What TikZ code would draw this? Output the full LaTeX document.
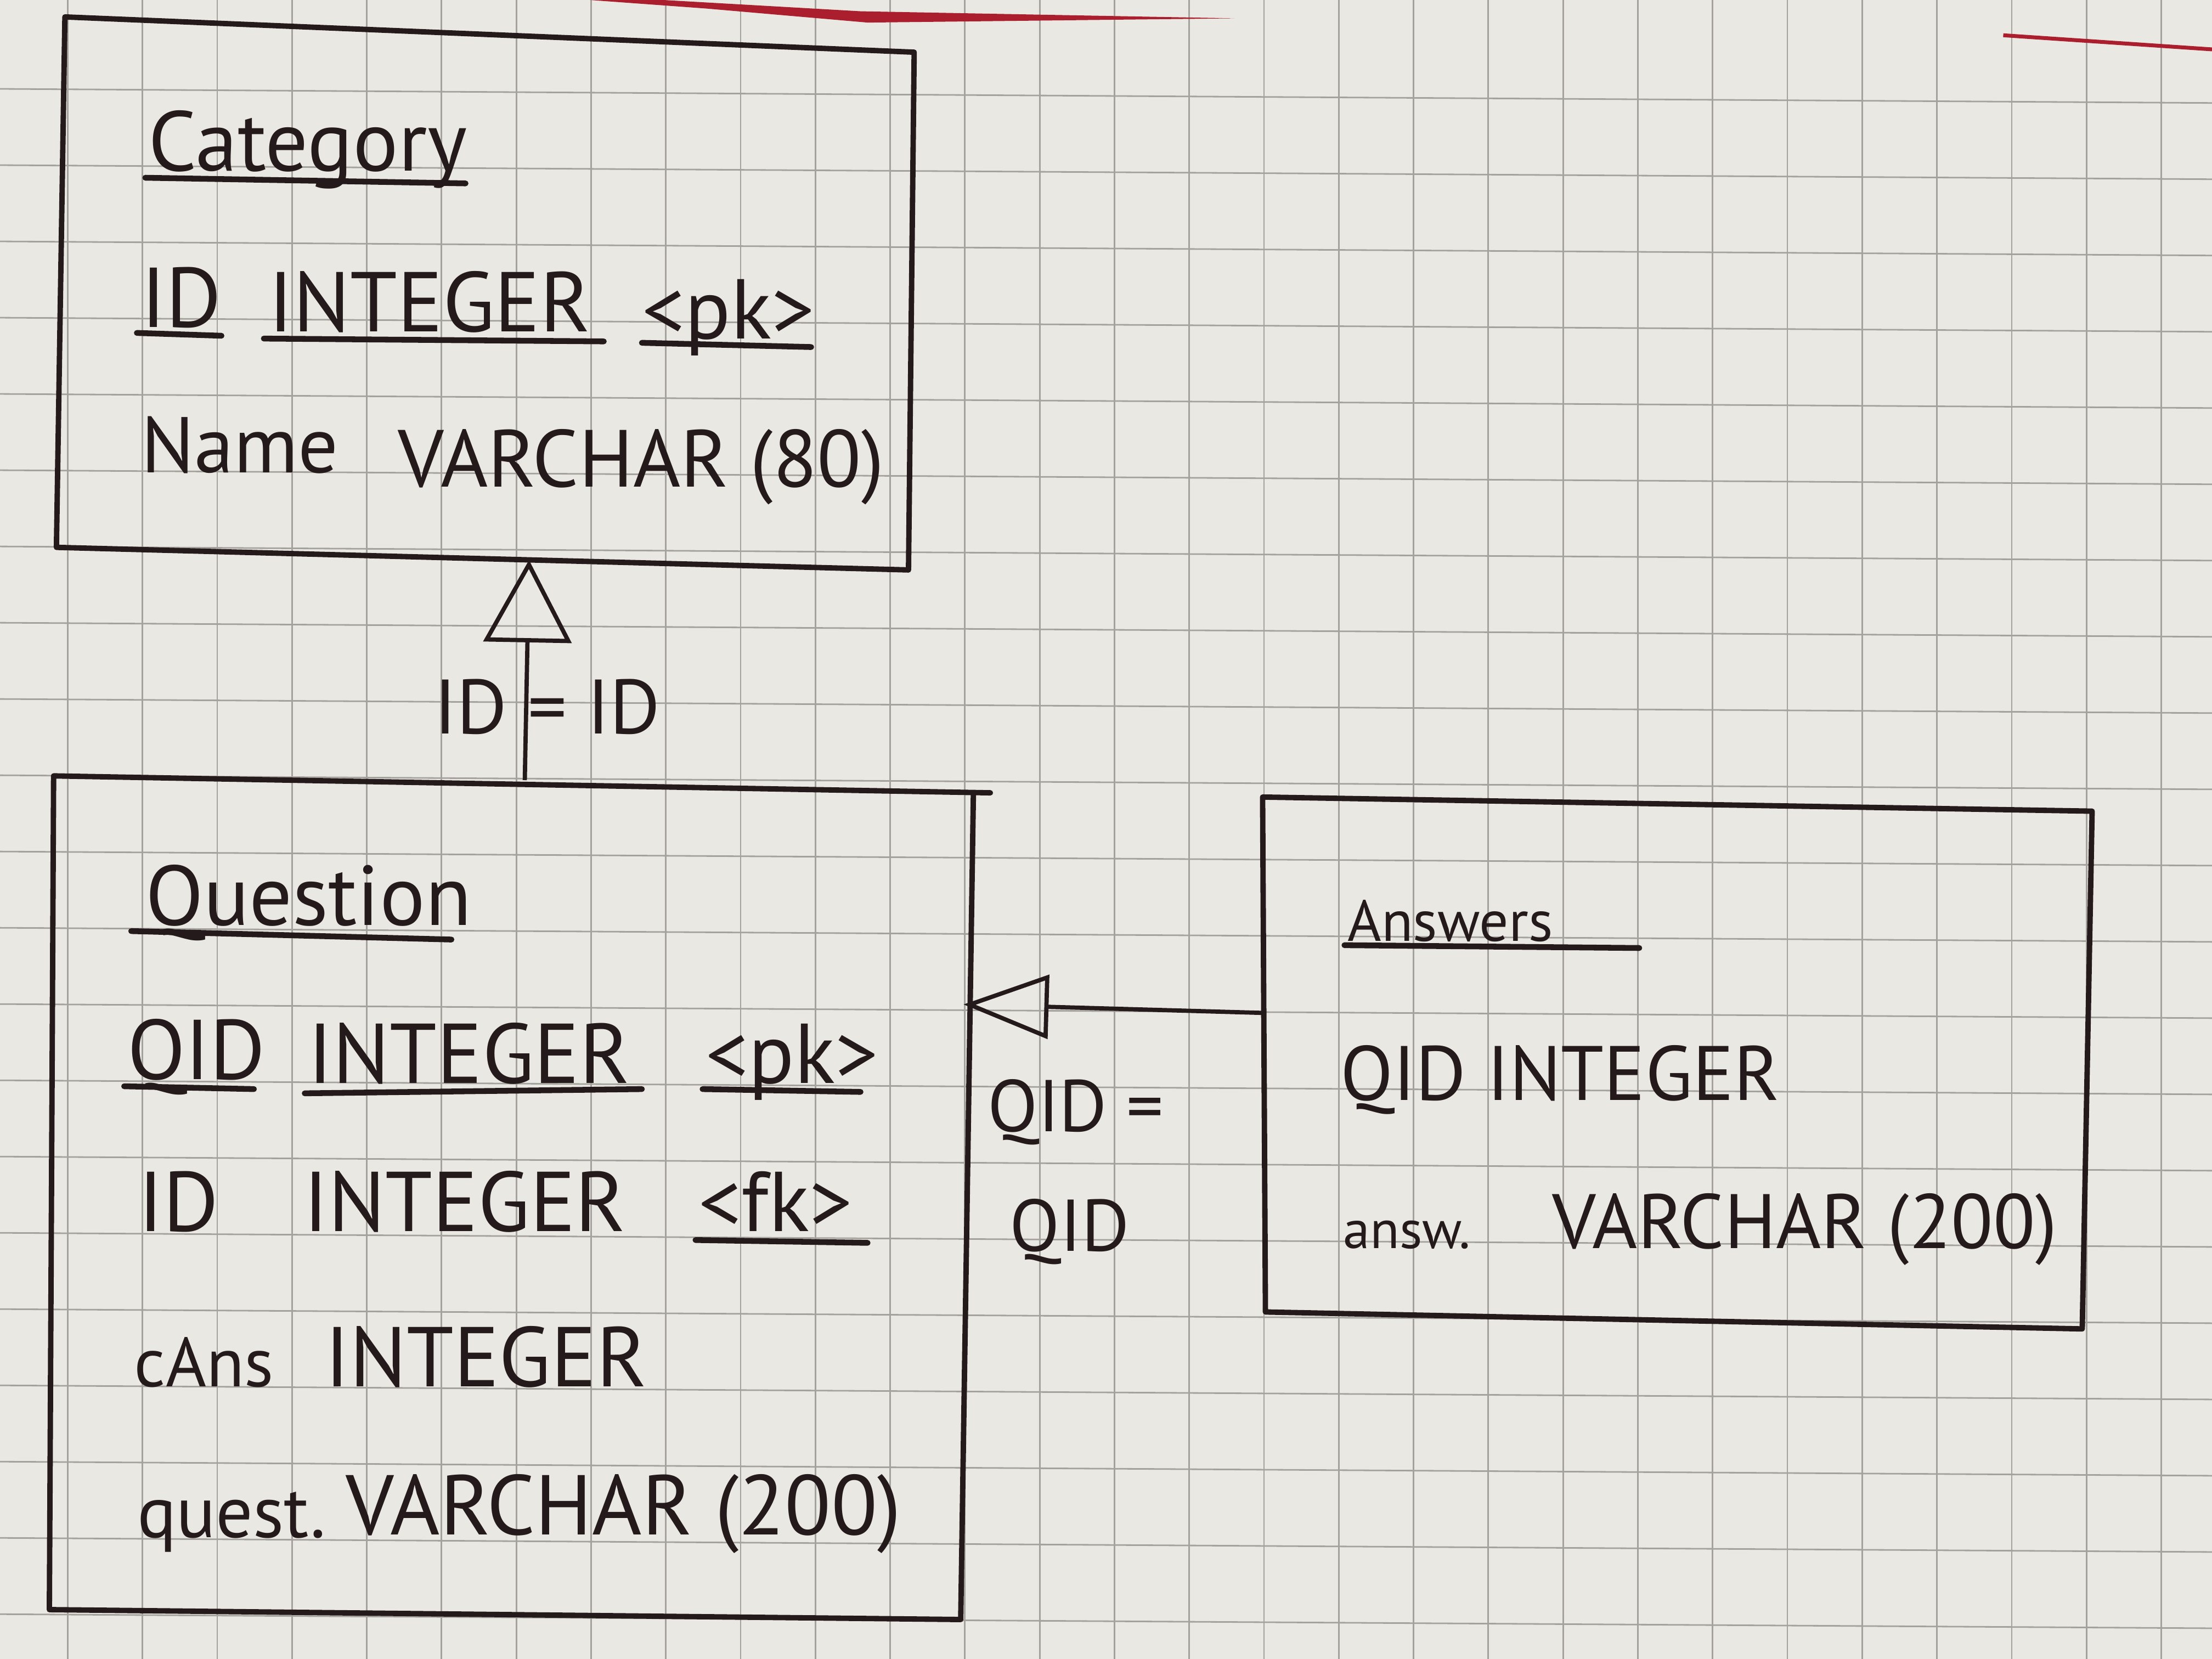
\documentclass[tikz,border=0pt]{standalone}
\usepackage{fontspec}
\setmainfont{PT Sans}
\usetikzlibrary{arrows.meta}
\definecolor{paper}{RGB}{234,232,226}
\definecolor{gridc}{RGB}{165,162,157}
\definecolor{ink}{RGB}{36,26,28}
\definecolor{redink}{RGB}{170,30,45}
\begin{document}
\begin{tikzpicture}[x=0.025714cm,y=-0.025714cm,
  box/.style={draw=ink,line width=2.8pt,line join=round,line cap=round},
  txt/.style={anchor=base west,inner sep=0pt,text=ink,font=\fontsize{44}{50}\selectfont},
  mid/.style={txt,font=\fontsize{40}{46}\selectfont},
  small/.style={txt,font=\fontsize{30}{36}\selectfont},
  tiny/.style={txt,font=\fontsize{28}{32}\selectfont},
  uline/.style={draw=ink,line width=3pt,line cap=round},
  conn/.style={draw=ink,line width=2.2pt},
  vtri/.style={-{Triangle[open,length=1.5cm,width=1.6cm,line width=2.2pt]}},
  htri/.style={-{Triangle[open,length=1.55cm,width=1.16cm,line width=2.2pt]}},
  gridline/.style={draw=gridc,line width=0.8pt}
]
\useasboundingbox (0,0) rectangle (1568,1176);
\fill[paper] (0,0) rectangle (1568,1176);
% grid paper
\foreach \i in {0,...,29} {\draw[gridline] (48+53*\i,0) -- (48+53*\i,1176);}
\foreach \j in {0,...,21} {\draw[gridline] (0,63+54.06*\j) -- (1568,73+54.06*\j);}
% red margin marks
\fill[redink] (418,0) -- (470,0) -- (610,8) -- (875,13) -- (615,16) -- (500,6) -- cycle;
\draw[redink,line width=2pt] (1420,25) -- (1568,35);

% ---------- Category ----------
\coordinate (catTL) at (46,12);
\coordinate (catTR) at (648,37);
\coordinate (catBR) at (644,404);
\coordinate (catBL) at (40,388);
\draw[box] (catTL) -- (catTR) -- (catBR) -- (catBL) -- cycle;
\node[txt] (cattitle) at (105,121) {Category};
\draw[uline] (103,126) -- (330,130);
\node[txt] (catid) at (100,232) {ID};
\draw[uline] (97,236) -- (157,238);
\node[txt] (catidtype) at (190,235) {INTEGER};
\draw[uline] (187,240) -- (428,242);
\node[txt] (catpk) at (455,240) {<pk>};
\draw[uline] (455,243) -- (575,246);
\node[txt,font=\fontsize{41}{46}\selectfont] (catname) at (100,335) {Name};
\node[txt,font=\fontsize{42}{48}\selectfont] (catnametype) at (282,345) {VARCHAR (80)};

% ---------- Question ----------
\coordinate (qTL) at (38,550);
\coordinate (qTRx) at (702,562);
\coordinate (qTR) at (690,562);
\coordinate (qBR) at (681,1148);
\coordinate (qBL) at (35,1141);
\draw[box] (qTRx) -- (qTL) -- (qBL) -- (qBR) -- (qTR);
\node[txt] (qtitle) at (103,656) {Question};
\draw[uline] (93,660) -- (320,666);
\node[txt] (qqid) at (90,765) {QID};
\draw[uline] (88,770) -- (180,772);
\node[txt] (qqidtype) at (218,768) {INTEGER};
\draw[uline] (216,775) -- (455,772);
\node[txt] (qpk) at (500,768) {<pk>};
\draw[uline] (498,772) -- (610,774);
\node[txt] (qid) at (98,873) {ID};
\node[txt] (qidtype) at (215,873) {INTEGER};
\node[txt] (qfk) at (495,873) {<fk>};
\draw[uline] (493,879) -- (615,881);
\node[txt,font=\fontsize{36}{40}\selectfont] (qcans) at (95,983) {cAns};
\node[txt] (qcanstype) at (230,983) {INTEGER};
\node[txt,font=\fontsize{38}{42}\selectfont] (qquest) at (97,1090) {quest.};
\node[txt] (qquesttype) at (245,1088) {VARCHAR (200)};

% ---------- Answers ----------
\coordinate (aTL) at (895,565);
\coordinate (aTR) at (1483,575);
\coordinate (aBR) at (1476,942);
\coordinate (aBL) at (897,930);
\draw[box] (aTL) -- (aTR) -- (aBR) -- (aBL) -- cycle;
\node[small] (atitle) at (955,667) {Answers};
\draw[uline] (953,670) -- (1162,672);
\node[mid] (aqid) at (950,780) {QID INTEGER};
\node[tiny] (aansw) at (952,885) {answ.};
\node[mid] (aanswtype) at (1100,885) {VARCHAR (200)};

% ---------- connectors ----------
\coordinate (qtop) at (372,553);
\coordinate (cbot) at (375,397);
\draw[conn,vtri] (qtop) -- (cbot);
\node[mid,anchor=base] (lab1) at (388,520) {ID = ID};

\coordinate (aleft) at (895,718);
\coordinate (qright) at (683,712);
\draw[conn,htri] (aleft) -- (qright);
\node[mid,anchor=north west,align=left,font=\fontsize{38}{62}\selectfont] (lab2) at (700,765) {QID =\\\hspace*{0.3em}QID};
\end{tikzpicture}
\end{document}
